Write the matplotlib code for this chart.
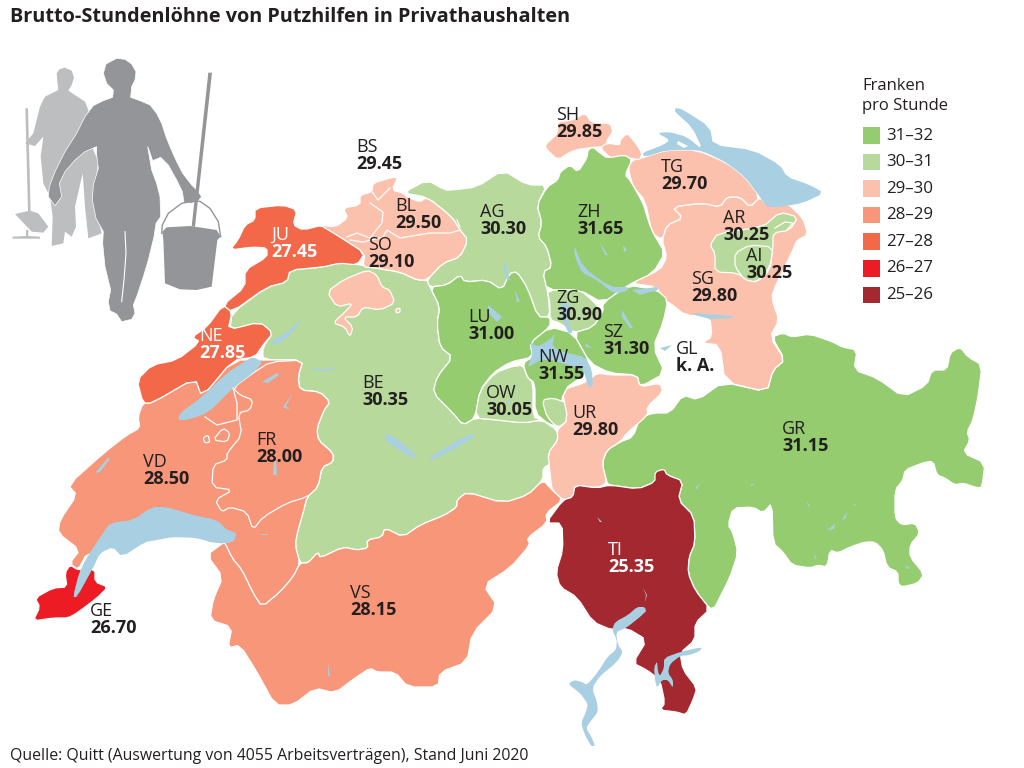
import matplotlib
matplotlib.use("Agg")
import matplotlib.pyplot as plt
from matplotlib.patches import Polygon, Rectangle

# === data ===
canton_names = ["BS", "SH", "TG", "BL", "AG", "ZH", "JU", "SO", "AR", "AI", "SG", "LU", "ZG",
                "SZ", "NE", "NW", "GL", "OW", "BE", "UR", "GR", "FR", "VD", "TI", "VS", "GE"]
canton_values = [29.45, 29.85, 29.70, 29.50, 30.30, 31.65, 27.45, 29.10, 30.25, 30.25, 29.80, 31.00, 30.90,
                 31.30, 27.85, 31.55, None, 30.05, 30.35, 29.80, 31.15, 28.00, 28.50, 25.35, 28.15, 26.70]
legend_labels = ["31–32", "30–31", "29–30", "28–29", "27–28", "26–27", "25–26"]
legend_lows = [31, 30, 29, 28, 27, 26, 25]
legend_colors = ["#94cc6f", "#b7d99b", "#fcc1ac", "#f79678", "#f4684a", "#ed1c24", "#a4282f"]

title = "Brutto-Stundenlöhne von Putzhilfen in Privathaushalten"
source = "Quelle: Quitt (Auswertung von 4055 Arbeitsverträgen), Stand Juni 2020"

# === canton outlines (image pixels) ===
BE = [(230,330),(232,313),(267,287),(287,282),(290,270),(323,267),(340,262),(367,266),(375,268),(400,272),
      (417,280),(427,280),(430,287),(440,307),(437,323),(440,347),(453,357),(437,377),(433,393),(453,413),
      (463,425),(475,418),(497,420),(523,423),(542,420),(557,430),(558,440),(548,453),(552,463),(543,468),
      (543,480),(528,495),(503,503),(467,492),(457,500),(457,507),(445,515),(420,525),(403,537),(385,528),
      (382,537),(367,540),(368,548),(357,550),(343,547),(320,558),(318,552),(308,563),(300,563),(295,545),
      (298,530),(303,513),(307,497),(318,487),(322,467),(333,462),(333,453),(318,440),(317,428),(324,410),
      (330,402),(320,392),(300,390),(298,377),(303,360),(263,360),(263,347),(273,333),(260,322)]
AG = [(403,193),(427,180),(445,190),(452,190),(477,187),(503,170),(527,185),(547,185),(537,205),(542,223),
      (538,237),(547,247),(552,267),(543,272),(548,293),(550,317),(538,317),(527,287),(517,272),(510,273),
      (502,290),(487,280),(465,282),(460,275),(447,285),(430,287),(427,280),(443,263),(460,257),(468,240),
      (460,230),(452,217),(427,197)]
GR = [(772,337),(783,333),(792,337),(810,334),(833,342),(842,347),(857,350),(854,370),(877,378),(903,397),
      (927,385),(932,370),(947,370),(950,353),(960,347),(968,357),(982,365),(978,397),(973,420),(967,432),
      (970,440),(963,453),(985,463),(982,487),(978,488),(963,483),(955,485),(945,478),(937,475),(933,461),
      (922,463),(905,470),(903,480),(895,490),(895,518),(902,525),(915,523),(920,533),(910,545),(910,557),
      (924,574),(918,583),(902,587),(898,583),(898,572),(887,567),(883,550),(875,542),(865,542),(850,547),
      (838,553),(830,550),(827,567),(818,565),(810,568),(792,565),(783,552),(773,543),(772,503),(763,513),
      (753,507),(733,508),(728,525),(733,533),(738,553),(730,577),(720,597),(715,607),(710,609),(695,590),
      (688,573),(689,557),(695,543),(694,516),(678,500),(683,481),(667,475),(655,482),(638,489),(610,485),
      (607,483),(602,463),(607,450),(620,442),(633,437),(640,418),(653,413),(670,413),(683,395),(698,400),
      (723,382),(767,392),(773,370),(785,360)]
SG = [(725,382),(767,392),(773,370),(785,360),(770,337),(779,320),(773,303),(772,293),(793,250),(797,240),
      (808,235),(803,218),(787,203),(767,205),(760,197),(750,207),(740,197),(727,197),(720,207),(702,203),
      (672,207),(683,218),(667,225),(662,240),(667,257),(660,270),(630,283),(657,287),(663,300),(670,303),
      (685,315),(710,317),(712,337),(702,343),(720,345)]
TG = [(645,157),(667,150),(697,150),(727,163),(745,177),(760,197),(750,207),(740,197),(727,197),(720,207),
      (702,203),(672,207),(683,218),(667,225),(662,240),(652,233),(645,200),(633,187),(628,167),(633,160)]
SH1 = [(545,145),(558,133),(557,122),(573,120),(585,113),(592,123),(610,123),(613,132),(607,140),(607,147),
       (597,147),(580,149),(570,152),(558,160),(547,150)]
SH2 = [(600,148),(607,143),(620,145),(620,140),(627,133),(635,142),(642,153),(640,160),(630,158),(613,160)]
SH3 = [(573,178),(580,175),(582,183),(577,188)]
ZH = [(593,147),(600,153),(607,158),(625,155),(632,160),(625,175),(630,180),(643,203),(648,220),(653,233),
      (665,253),(653,273),(628,285),(603,303),(580,290),(547,290),(543,272),(552,267),(547,247),(538,237),
      (542,223),(537,205),(547,187),(558,180),(560,172),(570,165),(578,172),(587,158),(588,150)]
LU = [(430,287),(447,285),(460,275),(465,282),(487,280),(502,290),(510,273),(517,272),(527,287),(538,317),
      (550,317),(550,327),(530,343),(533,357),(510,362),(493,373),(480,390),(475,418),(463,425),(453,413),
      (433,393),(437,377),(453,357),(440,347),(437,323),(440,307)]
ZG = [(547,290),(580,290),(592,300),(603,312),(593,327),(573,333),(560,323),(550,320),(550,303)]
SZ = [(603,303),(628,285),(657,290),(668,300),(663,323),(653,347),(665,373),(640,387),(637,375),(610,373),
      (590,363),(573,333),(593,327),(603,312)]
NW = [(550,327),(573,333),(590,363),(587,373),(563,390),(560,425),(550,425),(535,413),(535,383),(527,377),
      (523,363),(533,357),(530,343)]
OW1 = [(495,373),(510,367),(523,365),(527,377),(533,383),(533,417),(542,420),(523,423),(497,420),(475,418),(480,390)]
OW2 = [(542,400),(553,398),(567,403),(568,420),(558,428),(547,417)]
UR = [(562,390),(587,382),(597,373),(610,375),(637,375),(640,387),(660,383),(663,392),(647,407),(648,415),
      (627,433),(620,442),(607,450),(602,463),(607,483),(597,488),(575,485),(573,497),(563,500),(552,490),
      (550,473),(548,453),(558,440),(557,430),(568,420)]
VD = [(143,403),(152,403),(195,378),(202,397),(233,360),(270,360),(303,360),(298,377),(300,390),(320,392),
      (330,402),(324,410),(317,428),(318,440),(333,453),(333,462),(322,467),(318,487),(307,497),(303,513),
      (298,530),(295,545),(300,563),(293,577),(280,592),(262,607),(253,593),(242,570),(232,558),(225,543),
      (150,530),(87,553),(78,570),(70,563),(80,550),(58,533),(60,520),(77,495),(68,485),(105,452),(127,435),
      (140,428),(138,417)]
VS = [(223,543),(207,555),(223,577),(213,600),(210,620),(232,627),(228,648),(240,645),(257,672),(275,705),
      (293,705),(315,688),(335,693),(355,678),(370,668),(377,672),(395,672),(408,687),(438,687),(440,672),
      (467,662),(472,633),(498,607),(483,585),(510,568),(530,545),(527,538),(547,523),(546,513),(563,500),
      (552,490),(543,480),(528,495),(503,503),(467,492),(457,500),(457,507),(445,515),(420,525),(403,537),
      (385,528),(382,537),(367,540),(368,548),(357,550),(343,547),(320,558),(318,552),(308,563),(300,563),
      (293,577),(280,592),(262,607),(253,593),(242,570),(232,558),(225,543)]
FR = [(307,497),(318,487),(322,467),(333,462),(333,453),(318,440),(317,428),(324,410),(330,402),(320,392),
      (300,390),(298,377),(303,360),(270,362),(253,373),(233,388),(240,395),(253,400),(250,410),(238,413),
      (242,435),(227,453),(227,460),(213,465),(212,487),(233,490),(215,500),(222,512),(230,507),(247,512),
      (253,530),(263,517),(287,503)]
FR_X1 = [(205,417),(217,425),(237,420),(237,403),(233,388)]
FR_X2 = [(203,438),(208,435),(210,442),(205,443)]
FR_X3 = [(213,440),(223,428),(230,433),(227,442)]
NE = [(137,380),(152,365),(177,360),(200,342),(192,337),(207,327),(223,305),(232,312),(228,330),(260,322),
      (273,333),(263,345),(255,357),(233,360),(202,397),(195,378),(152,403),(143,403)]
JU = [(230,250),(238,240),(245,225),(255,220),(255,208),(283,205),(297,210),(293,225),(303,230),(323,225),
      (340,237),(365,253),(357,265),(340,263),(323,267),(290,270),(287,282),(267,287),(232,312),(223,305),
      (245,287),(245,270),(267,257),(267,248),(253,247)]
BL = [(390,178),(398,177),(392,190),(403,193),(407,197),(420,202),(427,197),(452,217),(460,230),(468,240),
      (460,257),(443,263),(427,280),(417,280),(400,272),(375,268),(363,267),(365,253),(340,237),(320,225),
      (335,227),(348,218),(343,208),(360,205),(360,195),(372,192),(373,183)]
SO2 = [(327,292),(343,280),(367,270),(377,275),(382,287),(390,290),(395,303),(380,310),(363,307),(357,317),
       (343,317),(353,327),(350,337),(345,327),(333,323),(345,312),(353,303),(337,307)]
SO3 = [(396,309),(400,308),(400,312),(396,313)]
AR = [(710,245),(718,233),(763,227),(780,212),(798,217),(790,230),(773,233),(773,247),(770,270),(757,282),
      (747,280),(737,273),(715,272),(715,253)]
AI = [(735,253),(750,245),(773,247),(770,267),(757,282),(745,280),(735,267)]
TI = [(546,523),(563,500),(573,497),(575,485),(597,488),(610,485),(638,489),(655,482),(655,472),(664,469),
      (667,475),(683,481),(678,500),(694,516),(695,543),(689,557),(688,573),(695,590),(710,609),(695,623),
      (695,640),(680,653),(683,670),(697,688),(693,700),(686,715),(677,712),(660,710),(665,703),(660,680),
      (647,670),(633,663),(647,640),(627,628),(612,630),(593,622),(577,597),(560,587),(556,572),(563,550),
      (562,523)]
GE = [(70,565),(78,570),(95,569),(95,582),(108,587),(97,598),(77,613),(68,618),(53,618),(33,621),(40,607),
      (35,598),(53,588),(67,587),(65,573)]

# (outline, canton) in drawing order
shapes = [(BE,"BE"),(AG,"AG"),(GR,"GR"),(SG,"SG"),(TG,"TG"),(SH1,"SH"),(SH2,"SH"),(SH3,"SH"),(ZH,"ZH"),
          (LU,"LU"),(SZ,"SZ"),(NW,"NW"),(ZG,"ZG"),(OW1,"OW"),(OW2,"OW"),(UR,"UR"),(VD,"VD"),(VS,"VS"),(FR,"FR"),
          (FR_X2,"FR"),(FR_X3,"FR"),(NE,"NE"),(JU,"JU"),(BL,"BL"),(SO2,"SO"),(SO3,"SO"),(AR,"AR"),(AI,"AI"),
          (GE,"GE"),(TI,"TI")]

# inner borders between BS, BL and SO
inner_lines = [FR_X1,
    [(347,237),(357,233),(370,238),(382,223),(383,212),(370,203)],
    [(350,240),(363,242),(383,237),(387,230),(400,238),(430,233),(450,233),(460,230)],
    [(372,192),(378,200),(390,188)],
    [(457,220),(460,227)],
    [(775,228),(785,222),(793,223),(787,230)]]

# === lakes ===
lakes = [
    [(237,533),(227,530),(217,520),(193,515),(177,510),(165,507),(152,507),(133,520),(110,523),(103,533),(87,557),
     (79,573),(73,597),(77,597),(93,568),(100,553),(113,547),(122,557),(145,542),(157,540),(173,537),(197,538),(213,543),(233,543)],
    [(178,420),(180,413),(202,397),(227,373),(247,360),(253,357),(263,362),(253,373),(233,388),(208,413),(187,420)],
    [(302,318),(290,330),(270,342),(275,345),(287,338),(297,327)],
    [(262,382),(277,373),(279,375),(268,383)],
    [(293,393),(283,407),(290,410),(286,406)],
    [(95,473),(108,458),(110,459),(100,472)],
    [(275,450),(277,475),(273,475)],
    [(262,534),(268,534),(268,535),(262,535)],
    [(386,434),(392,436),(405,445),(418,457),(410,457),(395,447),(385,440)],
    [(428,458),(445,448),(462,438),(475,433),(472,438),(458,447),(440,456),(432,460)],
    [(312,367),(322,370),(335,367),(335,369),(322,372),(312,369)],
    [(488,305),(502,317),(497,322),(488,312)],
    [(515,290),(520,302),(517,302)],
    [(504,260),(510,280),(507,280),(503,267)],
    [(574,245),(583,267),(610,287),(630,287),(625,292),(613,293),(597,280),(582,273),(575,257)],
    [(600,243),(608,255),(605,255)],
    [(623,245),(627,250),(624,252)],
    [(632,290),(657,287),(658,290),(640,295)],
    [(560,303),(568,303),(570,313),(568,323),(573,333),(568,333),(562,317)],
    [(622,310),(633,328),(630,328),(622,317)],
    [(585,343),(592,348),(586,347)],
    [(530,342),(538,347),(552,338),(555,333),(552,347),(567,353),(585,357),(592,370),(593,387),(588,387),(583,368),
     (567,365),(553,360),(540,360),(527,368),(533,353)],
    [(505,403),(512,398),(510,403)],
    [(693,313),(733,316),(732,318),(710,319),(695,315)],
    [(660,348),(672,345),(665,351)],
    [(675,108),(682,109),(710,127),(713,145),(753,150),(780,165),(787,177),(810,185),(824,193),(803,203),(780,207),
     (767,207),(760,197),(745,177),(727,163),(707,153),(697,150),(667,150),(645,157),(642,153),(663,145),(670,140),
     (657,133),(670,132),(687,137),(703,150),(692,127),(675,112)],
    [(645,612),(640,617),(626,628),(616,632),(618,645),(623,652),(617,662),(600,676),(592,688),(597,702),(598,712),
     (590,722),(586,728),(592,738),(595,746),(591,746),(585,735),(581,723),(586,712),(588,704),(580,693),(568,684),
     (574,680),(582,682),(587,685),(598,672),(608,656),(616,650),(617,640),(612,630),(615,622),(628,615),(637,607),
     (645,607),(646,612)],
    [(702,647),(700,651),(690,655),(680,656),(670,664),(668,673),(673,680),(673,688),(668,680),(662,680),(657,688),
     (655,680),(654,668),(657,661),(658,672),(660,676),(664,668),(664,658),(680,652)],
    [(597,517),(602,522),(600,522)],
    [(643,588),(647,595),(645,602),(646,595)],
    [(695,488),(700,483),(697,489)],
    [(750,485),(755,483),(752,486)],
    [(807,501),(810,506),(808,506)],
    [(827,530),(835,524),(834,529)],
    [(842,520),(847,512),(846,518)],
    [(853,505),(857,503),(855,506)],
    [(814,554),(817,559),(815,559)],
    [(905,565),(910,568),(907,569)],
    [(328,663),(330,678),(328,675)],
]
island = [(678,141),(688,146),(684,148),(677,144)]

# === figures, traced at 3x from the top left corner ===
woman = [(350,55),(375,58),(395,72),(408,95),(405,120),(395,140),(392,172),(420,182),(450,195),(470,220),(485,250),
         (498,290),(510,320),(530,365),(548,400),(575,435),(590,450),(605,470),(595,482),(575,490),(552,487),(547,455),
         (530,420),(505,375),(482,352),(458,362),(447,330),(443,320),(455,390),(470,430),(480,470),(482,530),(468,550),
         (462,590),(445,660),(430,710),(410,770),(400,795),(405,820),(395,838),(365,845),(350,822),(330,812),(325,785),
         (332,750),(315,680),(308,610),(310,575),(288,535),(277,480),(280,435),(295,385),(290,345),(290,320),(255,335),
         (225,360),(195,395),(178,430),(185,470),(165,497),(145,470),(148,440),(165,395),(195,335),(230,280),(255,230),
         (280,197),(310,182),(338,172),(340,150),(320,130),(310,100),(318,72)]
leg_gap = [(375,575),(378,640),(372,720),(365,785)]
man = [(195,83),(215,92),(222,112),(215,135),(205,152),(255,185),(265,210),(280,330),(295,365),(280,470),(305,580),
       (265,595),(255,500),(248,400),(225,500),(228,560),(215,590),(195,575),(190,610),(155,618),(158,530),(150,470),
       (130,430),(122,350),(130,290),(105,318),(75,310),(100,280),(120,200),(135,170),(175,150),(172,125),(170,100),(178,88)]
broom_stick = [(76,205),(84,205),(92,515),(84,515)]
broom_pan = [(45,522),(90,512),(115,520),(145,560),(130,578),(95,575)]
broom_base = [(78,570),(85,570),(85,588),(120,590),(120,596),(38,596),(38,590),(78,588)]
mop = [(625,98),(636,98),(585,560),(575,560)]
bucket = [(487,575),(500,562),(570,558),(650,570),(662,590),(652,600),(635,740),(590,750),(540,748),(495,730),(490,600)]
handle = [(485,580),(487,555),(505,520),(545,490),(575,484),(600,484),(630,505),(655,545),(662,590)]

def crop(points, x0=0, y0=40):
    return [(x0 + x / 3, y0 + y / 3) for x, y in points]

def soften(points, cut=0.2):
    # cut the corners a little so the outlines look less angular
    out = []
    n = len(points)
    for i in range(n):
        x0, y0 = points[i]
        x1, y1 = points[(i + 1) % n]
        out.append((x0 + cut * (x1 - x0), y0 + cut * (y1 - y0)))
        out.append((x1 - cut * (x1 - x0), y1 - cut * (y1 - y0)))
    return out

def canton_color(value):
    if value is None:
        return "white"
    for low, color in zip(legend_lows, legend_colors):
        if value >= low:
            return color
    return "white"

# === label positions: x, y of the name line ===
label_pos = {"BS":(356,147),"SH":(556,115),"TG":(661,167),"BL":(395,206),"AG":(480,212),"ZH":(577,212),
             "JU":(271,235),"SO":(368,245),"AR":(723,218),"AI":(746,256),"SG":(691,279),"LU":(468,317),
             "ZG":(556,298),"SZ":(603,332),"NE":(199,336),"NW":(538,357),"GL":(676,349),"OW":(486,393),
             "BE":(362,383),"UR":(572,413),"GR":(782,429),"FR":(256,440),"VD":(143,462),"TI":(608,550),
             "VS":(350,593),"GE":(90,611)}
white_labels = ["JU", "NE", "TI"]

values_by_name = dict(zip(canton_names, canton_values))
ink = "#231f20"
plt.rcParams["font.family"] = ["Open Sans", "DejaVu Sans"]

fig = plt.figure(figsize=(10.24, 7.68), dpi=100)
ax = fig.add_axes([0, 0, 1, 1])
ax.set_xlim(0, 1024)
ax.set_ylim(768, 0)
ax.axis("off")

# === figures ===
for part in [broom_stick, broom_pan, broom_base, man]:
    ax.add_patch(Polygon(crop(part), closed=True, fc="#bcbec0", ec="none"))
ax.add_patch(Polygon(crop(woman), closed=True, fc="#939598", ec="white", lw=0.5))
ax.add_patch(Polygon(crop(mop), closed=True, fc="#939598", ec="none"))
ax.add_patch(Polygon(crop(bucket), closed=True, fc="#939598", ec="none"))
hx, hy = zip(*crop(handle))
ax.plot(hx, hy, color="#939598", lw=1)
gx, gy = zip(*crop(leg_gap))
ax.plot(gx, gy, color="white", lw=0.8)

# === map ===
for outline, name in shapes:
    ax.add_patch(Polygon(soften(outline), closed=True, fc=canton_color(values_by_name[name]),
                         ec="white", lw=0.9, joinstyle="round"))
for line in inner_lines:
    lx, ly = zip(*line)
    ax.plot(lx, ly, color="white", lw=0.9)
for lake in lakes:
    shape = soften(lake) if len(lake) > 5 else lake
    ax.add_patch(Polygon(shape, closed=True, fc="#a8d0e2", ec="none"))
ax.add_patch(Polygon(island, closed=True, fc="white", ec="none"))

# === labels ===
for name, value in zip(canton_names, canton_values):
    x, y = label_pos[name]
    color = "white" if name in white_labels else ink
    ax.text(x, y, name, fontsize=13, color=color, va="center", ha="left")
    shown = "k. A." if value is None else f"{value:.2f}"
    ax.text(x, y + 17, shown, fontsize=13, fontweight="bold", color=color, va="center", ha="left")

# === legend ===
ax.text(862, 86, "Franken", fontsize=12, color=ink, va="center")
ax.text(862, 106, "pro Stunde", fontsize=12, color=ink, va="center")
for i, (label, color) in enumerate(zip(legend_labels, legend_colors)):
    ax.add_patch(Rectangle((863, 127 + i * 26.6), 17, 16.5, fc=color, ec="none"))
    ax.text(886, 135.5 + i * 26.6, label, fontsize=12.2, color=ink, va="center")

# === title and source ===
ax.text(10, 17, title, fontsize=14.3, fontweight="bold", color=ink, va="center")
ax.text(10, 756, source, fontsize=11.4, color=ink, va="center")

fig.savefig("out.png", dpi=100)
